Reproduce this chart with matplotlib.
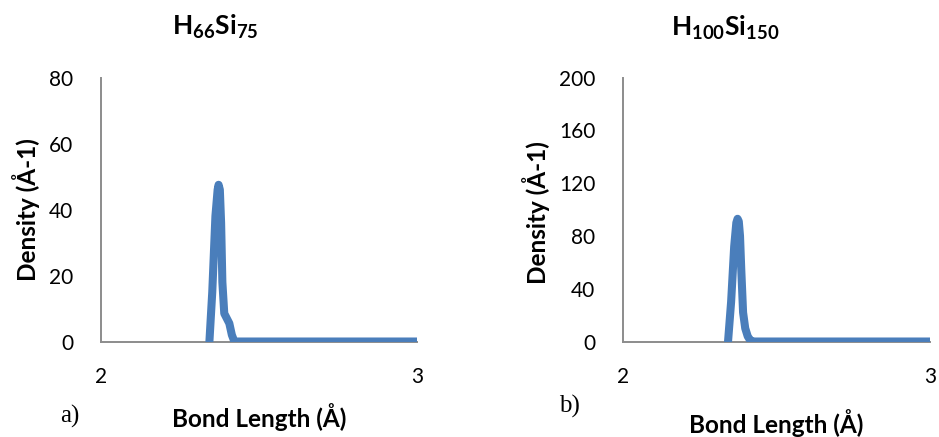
import matplotlib.pyplot as plt

plt.rcParams['font.family'] = ['Lato', 'DejaVu Sans']
plt.rcParams['mathtext.fontset'] = 'custom'
plt.rcParams['mathtext.bf'] = 'Lato:bold'
plt.rcParams['mathtext.rm'] = 'Lato'

# bond length (A) and density
x_a = [2.343, 2.352, 2.362, 2.369, 2.372, 2.376, 2.380, 2.384, 2.390, 2.398, 2.406, 2.414, 2.422, 3.0]
y_a = [0, 15, 38, 46, 47.5, 46, 36, 18, 8.5, 7, 5.5, 2, 0, 0]

x_b = [2.342, 2.352, 2.362, 2.369, 2.373, 2.377, 2.381, 2.385, 2.391, 2.398, 2.406, 2.414, 2.424, 3.0]
y_b = [0, 30, 72, 90, 93, 91, 80, 55, 22, 10, 4, 1, 0, 0]

titles = [r'$\mathbf{H_{66}Si_{75}}$', r'$\mathbf{H_{100}Si_{150}}$']
yticks_a = [0, 20, 40, 60, 80]
yticks_b = [0, 40, 80, 120, 160, 200]
panel_tags = ['a)', 'b)']

blue = '#4a7ebb'
grey = '#8c8c8c'

fig = plt.figure(figsize=(9.39, 4.37), dpi=100)
ax1 = fig.add_axes([0.1076, 0.2185, 0.3365, 0.604])
ax2 = fig.add_axes([0.6635, 0.2185, 0.327, 0.604])

for ax, x, y, yt in zip([ax1, ax2], [x_a, x_b], [y_a, y_b], [yticks_a, yticks_b]):
    ax.plot(x, y, color=blue, linewidth=5.8, solid_capstyle='round', solid_joinstyle='round')
    ax.set_xlim(2, 3)
    ax.set_ylim(0, yt[-1])
    ax.set_xticks([2, 3])
    ax.set_yticks(yt)
    for s in ['top', 'right']:
        ax.spines[s].set_visible(False)
    for s in ['bottom', 'left']:
        ax.spines[s].set_color(grey)
        ax.spines[s].set_linewidth(1.4)
        ax.spines[s].set_zorder(0)
    ax.tick_params(axis='x', length=0, pad=18, labelsize=15)
    ax.tick_params(axis='y', length=0, pad=20, labelsize=15)
    ax.set_xlabel('Bond Length (Å)', fontsize=17.5, fontweight='bold', va='center')
    ax.set_ylabel('Density (Å-1)', fontsize=17.5, fontweight='bold', va='center')
    ax.patch.set_visible(False)

ax1.xaxis.set_label_coords(0.5, -0.286)
ax2.xaxis.set_label_coords(0.5, -0.31)
ax1.yaxis.set_label_coords(-0.237, 0.5)
ax2.yaxis.set_label_coords(-0.283, 0.49)

# titles sit left of the plot centre, as in the source figure
fig.text(215 / 939, 1 - 35 / 437, titles[0], fontsize=19, ha='center', va='baseline')
fig.text(725 / 939, 1 - 36 / 437, titles[1], fontsize=19, ha='center', va='baseline')

fig.text(0.074, 0.048, panel_tags[0], fontsize=18, family='Liberation Serif', va='center', ha='center')
fig.text(0.607, 0.071, panel_tags[1], fontsize=18, family='Liberation Serif', va='center', ha='center')

fig.savefig('out.png', dpi=100)
